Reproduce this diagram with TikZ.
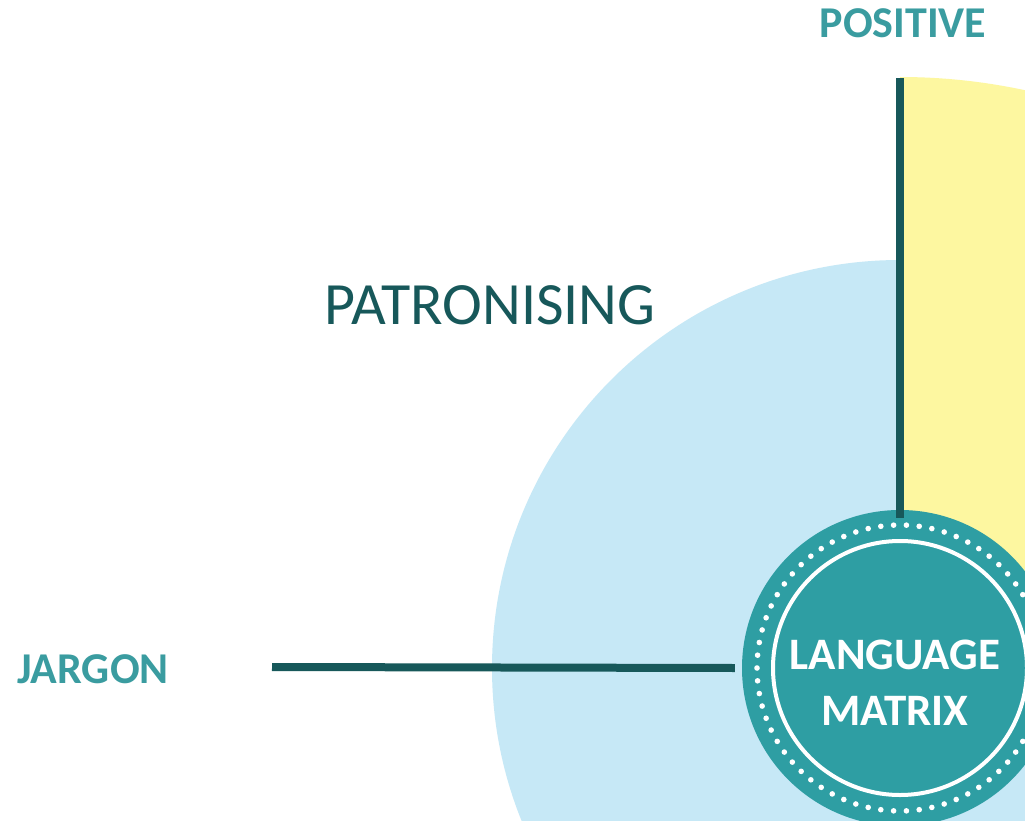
\documentclass[tikz,border=0pt]{standalone}
\usepackage{fontspec}
\setmainfont{Carlito}
\usetikzlibrary{calc}
\definecolor{lblue}{HTML}{C6E8F6}
\definecolor{lyellow}{HTML}{FDF7A0}
\definecolor{tealc}{HTML}{2E9EA3}
\definecolor{tealtxt}{HTML}{3A9CA0}
\definecolor{darkline}{HTML}{17585A}
\tikzset{
  axisline/.style={draw=darkline, line width=8pt},
  boldlabel/.style={text=tealtxt, font=\bfseries\fontsize{44}{48}\selectfont, inner sep=0pt},
}
\begin{document}
\begin{tikzpicture}[x=1pt,y=-1pt]
\useasboundingbox (0,0) rectangle (1025,821);
\fill[white] (0,0) rectangle (1025,821);
\begin{scope}
\clip (0,0) rectangle (1025,821);
% light blue disc
\fill[lblue] (900,668) circle[radius=408];
% yellow quarter
\fill[lyellow] (900,668) -- (900,77) arc[start angle=-90, end angle=0, radius=591] -- cycle;
% main circle
\node[circle, fill=tealc, minimum size=316pt, inner sep=0pt] (lm) at (900,668) {};
\draw[white, line width=4pt] (lm.center) circle[radius=127];
\foreach \a in {0,5.142857,...,359} {
  \fill[white] ($(lm.center)+(\a:143)$) circle[radius=2.8];
}
\end{scope}
\node[text=white, font=\bfseries\fontsize{45}{56}\selectfont, align=center, inner sep=0pt] (lmtext) at (895,683) {LANGUAGE\\MATRIX};
% axes
\coordinate (ptop) at (900,78);
\coordinate (pleft) at (272,667);
\draw[axisline] (ptop) -- ([yshift=-8pt]lm.north);
\draw[axisline] (pleft) -- ([xshift=-7pt]lm.west);
% labels
\node[boldlabel] (positive) at (903,23) {POSITIVE};
\node[boldlabel] (jargon) at (93,669) {JARGON};
\node[text=darkline, font=\fontsize{60}{66}\selectfont, inner sep=0pt] (patron) at (490,305) {PATRONISING};
\end{tikzpicture}
\end{document}
